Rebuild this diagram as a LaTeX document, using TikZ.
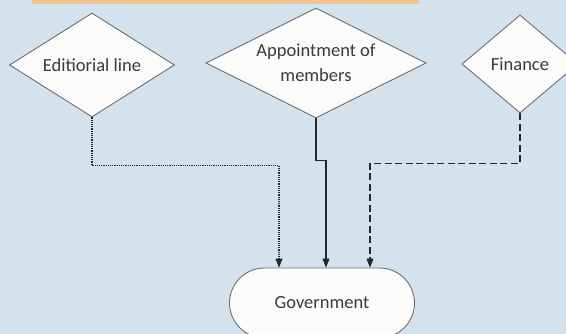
\documentclass[tikz,border=0pt]{standalone}
\usepackage{fontspec}
\setmainfont{Carlito}
\usepackage{tikz}
\usetikzlibrary{arrows.meta,shapes.geometric,shapes.misc,calc}
\definecolor{bg}{HTML}{D4E2EE}
\definecolor{bar}{HTML}{F3C395}
\definecolor{edgegray}{HTML}{6E6E6E}
\definecolor{ink}{HTML}{3A3A3A}
\definecolor{boxfill}{HTML}{FBFBF9}
\tikzset{
  decision/.style={diamond, draw=edgegray, line width=0.9pt, fill=boxfill, inner sep=0pt, align=center,
    text=ink, font=\fontsize{18.5}{25}\selectfont},
  terminal/.style={rounded rectangle, draw=edgegray, line width=0.9pt, fill=boxfill, inner sep=0pt,
    minimum width=185pt, minimum height=70pt, text=ink, font=\fontsize{18.5}{25}\selectfont},
  flow/.style={-{Triangle[length=9pt,width=7pt]}, line width=1.1pt, black!85},
  dotflow/.style={flow, dash pattern=on 1.2pt off 1pt},
  dashflow/.style={flow, dash pattern=on 7pt off 3.5pt},
}
\begin{document}
\begin{tikzpicture}[x=1pt,y=-1pt]
  \useasboundingbox (0,0) rectangle (566,334);
  \clip (0,0) rectangle (566,334);
  \fill[bg] (0,0) rectangle (566,334);
  \fill[bar] (32,0) rectangle (419,4);
  \node[decision, aspect=1.59, minimum width=165pt, minimum height=104pt] (edit) at (92,65) {Editiorial line};
  \node[decision, aspect=2, minimum width=220pt, minimum height=110pt] (appt) at (316,63) {Appointment of\\members};
  \node[decision, aspect=1.18, minimum width=116pt, minimum height=98pt] (fin) at (520,64) {Finance};
  \node[terminal] (gov) at (322,303) {Government};
  \draw[dotflow] (edit.south) -- ++(0,48) -| ([xshift=-43pt]gov.north);
  \draw[flow] (appt.south) -- ++(0,42) -| ([xshift=4pt]gov.north);
  \draw[dashflow] (fin.south) -- ++(0,50) -| ([xshift=48pt]gov.north);
\end{tikzpicture}
\end{document}
